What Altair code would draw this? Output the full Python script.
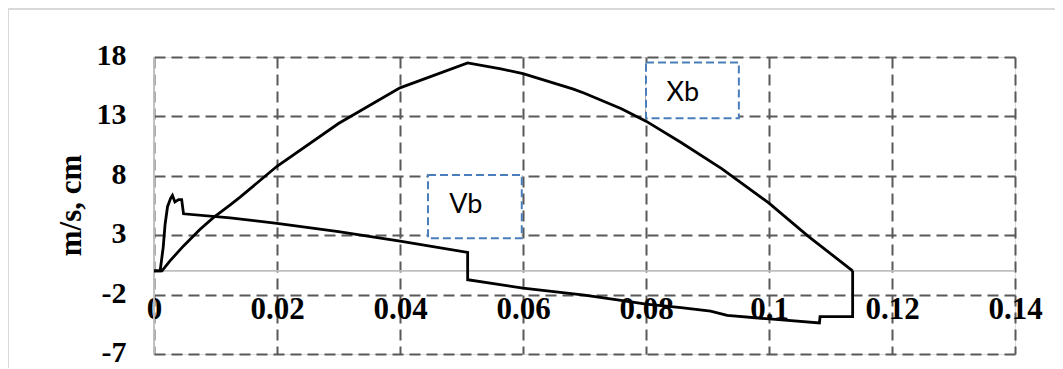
import altair as alt
import pandas as pd

# Xb (displacement, cm)
xb_t = [0, 0.0013, 0.0026, 0.0048, 0.0075, 0.0097, 0.0124, 0.014, 0.02, 0.03, 0.04,
        0.051, 0.0564, 0.06, 0.0682, 0.07, 0.076, 0.08, 0.0857, 0.0923, 0.1, 0.1064, 0.1136]
xb_v = [0, 0, 0.84, 2.1, 3.5, 4.5, 5.55, 6.2, 8.8, 12.4, 15.4,
        17.5, 17.0, 16.6, 15.3, 14.95, 13.65, 12.6, 10.8, 8.6, 5.7, 2.9, 0]

# Vb (velocity, m/s)
vb_t = [0, 0.001, 0.0015, 0.0018, 0.0022, 0.0027, 0.003, 0.0034, 0.004, 0.0045, 0.0048,
        0.0124, 0.02, 0.03, 0.04, 0.051, 0.051, 0.06, 0.07, 0.0762, 0.08, 0.0857,
        0.0905, 0.0932, 0.1001, 0.1082, 0.1083, 0.1136, 0.1136]
vb_v = [0, 0, 2.0, 3.9, 5.4, 6.1, 6.35, 5.8, 6.0, 6.0, 4.8,
        4.45, 4.0, 3.3, 2.5, 1.55, -0.75, -1.45, -2.05, -2.5, -2.8, -3.1,
        -3.4, -3.75, -4.05, -4.38, -3.85, -3.85, 0]

x_ticks = [0, 0.02, 0.04, 0.06, 0.08, 0.1, 0.12, 0.14]
y_ticks = [18, 13, 8, 3, -2, -7]

# annotation boxes (data units)
lbl_names = ["Xb", "Vb"]
lbl_x = [0.0860, 0.0507]
lbl_y = [14.94, 5.54]
box_x1 = [0.0800, 0.04455]
box_x2 = [0.0951, 0.0598]
box_y1 = [17.54, 8.07]
box_y2 = [12.84, 2.74]

rows = []
for i, (t, v) in enumerate(zip(xb_t, xb_v)):
    rows.append({"series": "Xb", "i": i, "x": t, "y": v})
for i, (t, v) in enumerate(zip(vb_t, vb_v)):
    rows.append({"series": "Vb", "i": i, "x": t, "y": v})
df = pd.DataFrame(rows)

boxes = pd.DataFrame({"name": lbl_names, "x": box_x1, "x2": box_x2, "y": box_y1, "y2": box_y2})
labels = pd.DataFrame({"name": lbl_names, "x": lbl_x, "y": lbl_y})

xs = alt.Scale(domain=[0, 0.14], nice=False, zero=False)
ys = alt.Scale(domain=[-7, 18], nice=False, zero=False)

SERIF = "Liberation Serif"
GRID = "#595959"

xaxis = alt.Axis(values=x_ticks, title="", domain=False, ticks=False, offset=-83,
                 labelFont=SERIF, labelFontWeight="bold", labelFontSize=31, labelColor="black",
                 labelPadding=23, labelExpr="datum.value + ''", labelOverlap=False,
                 labelFlush=False, labelBound=False,
                 grid=True, gridDash=[11, 6], gridColor=GRID, gridWidth=2, gridOpacity=1)
yaxis = alt.Axis(values=y_ticks, title="m/s, cm", domain=False, ticks=False,
                 labelFont=SERIF, labelFontWeight="bold", labelFontSize=30, labelColor="black",
                 labelPadding=28, labelOffset=-1.5, labelExpr="datum.value + ''", labelOverlap=False,
                 labelFlush=False,
                 grid=True, gridDash=[11, 6], gridColor=GRID, gridWidth=2, gridOpacity=1,
                 titleFont=SERIF, titleFontWeight="bold", titleFontSize=31, titleColor="black",
                 titleAngle=-90, titleX=-74, titleY=148, titleBaseline="alphabetic", titleAlign="center")

X = alt.X("x:Q", scale=xs, axis=xaxis)
Y = alt.Y("y:Q", scale=ys, axis=yaxis)

frame = alt.Chart(labels).mark_rect(fill=None, stroke="#d9d9d9", strokeWidth=2).encode(
    x=alt.value(-146), x2=alt.value(1000), y=alt.value(-48), y2=alt.value(400))

axis_lines = alt.layer(
    alt.Chart(labels).mark_rule(color="#bfbfbf", strokeWidth=1.5).encode(x=alt.datum(0, scale=xs)),
    alt.Chart(labels).mark_rule(color="#bfbfbf", strokeWidth=1.5).encode(y=alt.datum(0, scale=ys)),
)

box_layer = alt.Chart(boxes).mark_rect(fill="white", stroke="#4a7ebb", strokeWidth=2,
                                       strokeDash=[8, 4]).encode(
    x=X, x2="x2:Q", y=Y, y2="y2:Q")

lines = alt.Chart(df).mark_line(color="black", strokeWidth=2.8, strokeJoin="miter").encode(
    x=X, y=Y, detail="series:N", order="i:Q")

text = alt.Chart(labels).mark_text(font="Lato", fontSize=27, color="black").encode(
    x=X, y=Y, text="name:N")

chart = alt.layer(box_layer, axis_lines, lines, text, frame).properties(
    width=861, height=297,
    padding={"left": 146, "top": 49, "right": 40, "bottom": 14},
    autosize=alt.AutoSizeParams(type="none"),
).configure_view(stroke=None).configure(background="white")

chart.save("out.html", embed_options={"renderer": "svg", "actions": False})
